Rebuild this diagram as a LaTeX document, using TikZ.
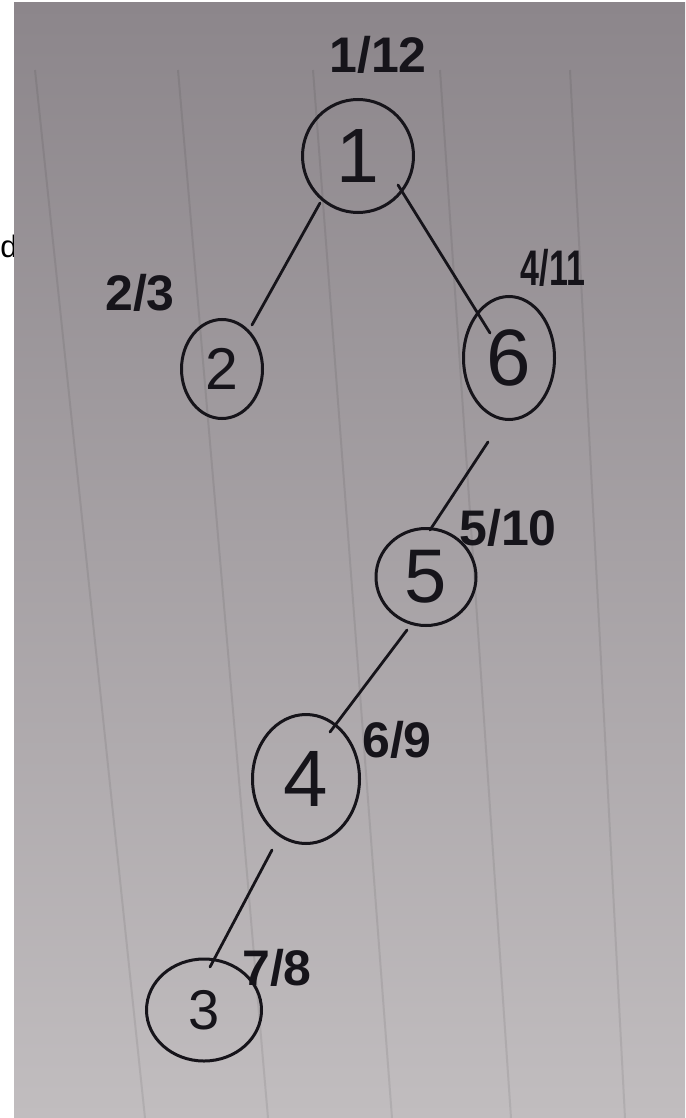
\documentclass[tikz,border=0pt]{standalone}
\usepackage{fontspec}
\setmainfont{Liberation Sans}
\usetikzlibrary{shapes.geometric,calc}

\definecolor{ink}{RGB}{22,20,26}
\definecolor{papertop}{RGB}{140,134,139}
\definecolor{papermid}{RGB}{168,163,166}
\definecolor{paperbot}{RGB}{193,189,191}

\tikzset{
  vertex/.style={ellipse, draw=ink, line width=3pt, inner sep=0pt, text=ink},
  edge/.style={draw=ink, line width=2.8pt, line cap=round},
  timelabel/.style={text=ink, inner sep=0pt, font=\fontsize{50}{50}\selectfont\bfseries},
  rule/.style={black, opacity=0.08, line width=2pt},
}

\begin{document}
\begin{tikzpicture}[x=1pt,y=-1pt]
  \useasboundingbox (0,0) rectangle (685,1118);
  \fill[white] (0,0) rectangle (685,1118);

  % stray letter at the left margin
  \node[anchor=base west, inner sep=0pt, font=\fontsize{31}{31}\selectfont] (cut) at (0.3,257) {d};

  % sheet of paper
  \shade[top color=papertop, middle color=papermid, bottom color=paperbot]
    (14,3) rectangle (685,1118);

  % faint ruled lines
  \foreach \a/\b in {35/145,178/268,313/392,440/511,570/625}
    \draw[rule] (\a,70) -- (\b,1118);

  % tree vertices
  \node[vertex, minimum width=111pt, minimum height=113pt, font=\fontsize{77}{77}\selectfont] (n1) at (358,156) {1};
  \node[vertex, minimum width=81pt,  minimum height=99pt,  font=\fontsize{59}{59}\selectfont] (n2) at (222,369) {2};
  \node[vertex, minimum width=91pt,  minimum height=123pt, font=\fontsize{80}{80}\selectfont] (n6) at (509,358) {6};
  \node[vertex, minimum width=100pt, minimum height=97pt,  font=\fontsize{76}{76}\selectfont] (n5) at (426,577) {5};
  \node[vertex, minimum width=107pt, minimum height=129pt, font=\fontsize{80}{80}\selectfont] (n4) at (306,779) {4};
  \node[vertex, minimum width=115pt, minimum height=102pt, font=\fontsize{56}{56}\selectfont] (n3) at (204,1010) {3};

  % discovery / finish times
  \node[timelabel] (t1) at (378,55)  {1/12};
  \node[timelabel] (t2) at (140,293) {2/3};
  \node[timelabel] (t6) at (553,268) {\scalebox{0.68}[1]{4/11}};
  \node[timelabel] (t5) at (508,528) {5/10};
  \node[timelabel] (t4) at (397,740) {6/9};
  \node[timelabel] (t3) at (277,968) {7/8};

  % tree edges
  \draw[edge] ($(n1)+(-38,47)$) -- ($(n2)+(30,-44)$);
  \draw[edge] ($(n1)+(40,29)$)  -- ($(n6)+(-19,-25)$);
  \draw[edge] ($(n6)+(-21,84)$) -- ($(n5)+(4,-47)$);
  \draw[edge] ($(n5)+(-19,53)$) -- ($(n4)+(24,-47)$);
  \draw[edge] ($(n4)+(-34,71)$) -- ($(n3)+(6,-43)$);
\end{tikzpicture}
\end{document}
